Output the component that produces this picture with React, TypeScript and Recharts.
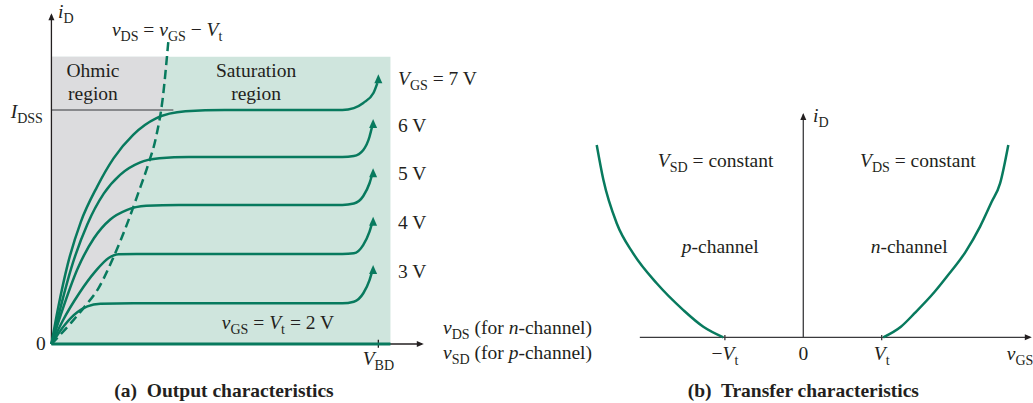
import {
  ComposedChart,
  Line,
  Area,
  XAxis,
  YAxis,
  ReferenceArea,
  ReferenceLine,
  ReferenceDot,
} from 'recharts';

type Pt = { x: number; y: number };
type Seg = [string, string?];

// (a) output characteristics: v_DS in volts (V_BD = 10), i_D in arbitrary units
const vgs3: Pt[] = [
  { x: 0, y: 0 }, { x: 0.4, y: 0.4 }, { x: 0.8, y: 0.68 }, { x: 1.1, y: 0.8 },
  { x: 1.5, y: 0.855 }, { x: 2.5, y: 0.866 }, { x: 8.9, y: 0.866 },
  { x: 9.25, y: 0.9 }, { x: 9.54, y: 1.08 }, { x: 9.73, y: 1.36 }, { x: 9.8, y: 1.52 },
];
const vgs4: Pt[] = [
  { x: 0, y: 0 }, { x: 0.35, y: 0.5 }, { x: 0.85, y: 1.08 }, { x: 1.35, y: 1.55 },
  { x: 1.75, y: 1.83 }, { x: 2.05, y: 1.91 }, { x: 2.6, y: 1.915 }, { x: 8.9, y: 1.915 },
  { x: 9.25, y: 1.93 }, { x: 9.54, y: 2.11 }, { x: 9.73, y: 2.39 }, { x: 9.8, y: 2.55 },
];
const vgs5: Pt[] = [
  { x: 0, y: 0 }, { x: 0.3, y: 0.65 }, { x: 0.8, y: 1.6 }, { x: 1.3, y: 2.25 },
  { x: 1.8, y: 2.65 }, { x: 2.3, y: 2.85 }, { x: 2.9, y: 2.94 }, { x: 3.9, y: 2.96 },
  { x: 8.9, y: 2.96 }, { x: 9.25, y: 2.99 }, { x: 9.54, y: 3.15 }, { x: 9.73, y: 3.42 },
  { x: 9.8, y: 3.58 },
];
const vgs6: Pt[] = [
  { x: 0, y: 0 }, { x: 0.25, y: 0.7 }, { x: 0.6, y: 1.6 }, { x: 1.1, y: 2.55 },
  { x: 1.6, y: 3.2 }, { x: 2.1, y: 3.6 }, { x: 2.7, y: 3.86 }, { x: 3.3, y: 3.95 },
  { x: 4.2, y: 3.98 }, { x: 8.9, y: 3.98 },
  { x: 9.25, y: 4.0 }, { x: 9.54, y: 4.13 }, { x: 9.73, y: 4.41 }, { x: 9.8, y: 4.6 },
];
const vgs7: Pt[] = [
  { x: 0, y: 0 }, { x: 0.2, y: 0.75 }, { x: 0.5, y: 1.7 }, { x: 0.9, y: 2.6 },
  { x: 1.4, y: 3.35 }, { x: 1.9, y: 3.95 }, { x: 2.5, y: 4.45 }, { x: 3.2, y: 4.8 },
  { x: 4.1, y: 4.95 }, { x: 5.3, y: 4.98 }, { x: 8.9, y: 4.98 },
  { x: 9.25, y: 5.02 }, { x: 9.54, y: 5.13 }, { x: 9.85, y: 5.34 }, { x: 9.97, y: 5.55 },
];
const vgs2: Pt[] = [{ x: 0, y: 0 }, { x: 10.37, y: 0 }];
const gateTips: Pt[] = [
  { x: 9.84, y: 1.68 }, { x: 9.84, y: 2.71 }, { x: 9.84, y: 3.74 }, { x: 9.84, y: 4.79 }, { x: 10.0, y: 5.74 },
];
const gateLevels = [0.866, 1.915, 2.96, 3.98, 4.98];
const gateLabels: Seg[][] = [
  [['3 V']], [['4 V']], [['5 V']], [['6 V']], [['V', 'i'], ['GS', 's'], [' = 7 V']],
];
// v_DS = v_GS − V_t
const boundary: Pt[] = [
  { x: 0, y: 0 }, { x: 0.6, y: 0.45 }, { x: 1.0, y: 0.78 }, { x: 1.45, y: 1.2 },
  { x: 1.9, y: 1.85 }, { x: 2.35, y: 2.62 }, { x: 2.65, y: 3.2 }, { x: 2.95, y: 3.8 },
  { x: 3.2, y: 4.4 }, { x: 3.4, y: 5.2 }, { x: 3.58, y: 6.47 },
];
const SHADE_TOP = 6.11;
const SAT_END = 10.37;
const IDSS = 4.98;
const VBD = 10;

// (b) transfer characteristics: v_GS in volts (V_t = 2), i_D in arbitrary units
const pChannel: Pt[] = [
  { x: -5.27, y: 8.55 }, { x: -5.1, y: 7.0 }, { x: -4.76, y: 5.07 }, { x: -4.34, y: 3.73 },
  { x: -3.74, y: 2.4 }, { x: -3.06, y: 1.21 }, { x: -2.55, y: 0.47 }, { x: -2.04, y: 0 },
];
const nChannel: Pt[] = [
  { x: 2.04, y: 0 }, { x: 2.49, y: 0.47 }, { x: 2.84, y: 1.07 }, { x: 3.34, y: 2.0 },
  { x: 3.66, y: 2.69 }, { x: 4.14, y: 3.8 }, { x: 4.51, y: 4.92 }, { x: 4.8, y: 6.0 },
  { x: 5.02, y: 6.84 }, { x: 5.23, y: 8.55 },
];
const VT = 2;
const transferTicks = [-VT, 0, VT];
const transferTickLabels: Seg[][] = [
  [['−'], ['V', 'i'], ['t', 's']],
  [['0']],
  [['V', 'i'], ['t', 's']],
];

const FONT = "'Liberation Serif', 'Times New Roman', Times, serif";
const INK = '#231f20';
const GREEN = '#087a5e';

function Rich({ x, y, parts, anchor = 'start', size = 19.5, bold = false }: any) {
  const shift = 5;
  let low = false;
  return (
    <text
      x={x}
      y={y}
      textAnchor={anchor}
      fontFamily={FONT}
      fontSize={size}
      fontWeight={bold ? 700 : 400}
      fill={INK}
      style={{ whiteSpace: 'pre' }}
    >
      {parts.map(([t, s]: Seg, i: number) => {
        const sub = s === 's';
        const dy = sub && !low ? shift : !sub && low ? -shift : 0;
        low = sub;
        return (
          <tspan
            key={i}
            dy={dy || undefined}
            fontStyle={s === 'i' ? 'italic' : undefined}
            fontSize={sub ? size * 0.72 : undefined}
          >
            {t}
          </tspan>
        );
      })}
    </text>
  );
}

const txt = (key: string, x: number, y: number, parts: Seg[], opts: any = {}) => (
  <ReferenceDot
    key={key}
    x={x}
    y={y}
    r={1}
    ifOverflow="visible"
    shape={(p: any) => <Rich x={p.cx} y={p.cy} parts={parts} {...opts} />}
  />
);

const arrow = (key: string, x: number, y: number, dir: 'up' | 'right', fill: string, len = 8, half = 3.5) => (
  <ReferenceDot
    key={key}
    x={x}
    y={y}
    r={1}
    ifOverflow="visible"
    shape={(p: any) =>
      dir === 'up' ? (
        <path d={`M${p.cx},${p.cy}l${-half},${len}h${2 * half}z`} fill={fill} />
      ) : (
        <path d={`M${p.cx},${p.cy}l${-len},${-half}v${2 * half}z`} fill={fill} />
      )
    }
  />
);

const ohmicArea = boundary.map((p) => ({ x: p.x, r: [Math.min(p.y, SHADE_TOP), SHADE_TOP] }));
const gateCurves = [vgs3, vgs4, vgs5, vgs6, vgs7];

function OutputChart() {
  return (
    <ComposedChart width={600} height={403} margin={{ top: 5, right: 0, bottom: 0, left: 5 }}>
      <XAxis type="number" dataKey="x" domain={[-1.42, 16.78]} hide allowDataOverflow />
      <YAxis type="number" domain={[-1.255, 7.213]} hide allowDataOverflow />
      <ReferenceArea x1={0} x2={SAT_END} y1={0} y2={SHADE_TOP} fill="#cfe5dd" fillOpacity={1} stroke="none" />
      <Area
        data={ohmicArea}
        dataKey="r"
        type="monotone"
        fill="#dcdcde"
        fillOpacity={1}
        stroke="none"
        isAnimationActive={false}
        activeDot={false}
      />
      <ReferenceLine segment={[{ x: 0, y: IDSS }, { x: 3.73, y: IDSS }]} stroke="#6d6e70" strokeWidth={1.5} />
      <ReferenceLine segment={[{ x: 0, y: 0 }, { x: 0, y: 7.0 }]} stroke={INK} strokeWidth={1.3} />
      <ReferenceLine segment={[{ x: 0, y: 0 }, { x: 11.33, y: 0 }]} stroke={INK} strokeWidth={1.3} />
      <ReferenceLine segment={[{ x: VBD, y: -0.08 }, { x: VBD, y: 0.09 }]} stroke={INK} strokeWidth={1.3} />
      {arrow('ay', 0, 7.04, 'up', INK, 7, 3)}
      {arrow('ax', 11.39, 0, 'right', INK, 7, 3)}
      <Line data={vgs2} dataKey="y" stroke={GREEN} strokeWidth={3} dot={false} activeDot={false} isAnimationActive={false} />
      {gateCurves.map((d, i) => (
        <Line
          key={i}
          data={d}
          dataKey="y"
          type="monotone"
          stroke={GREEN}
          strokeWidth={2.5}
          dot={false}
          activeDot={false}
          isAnimationActive={false}
        />
      ))}
      <Line
        data={boundary}
        dataKey="y"
        type="monotone"
        stroke={GREEN}
        strokeWidth={2.5}
        strokeDasharray="9 5"
        dot={false}
        activeDot={false}
        isAnimationActive={false}
      />
      {gateTips.map((t, i) => arrow('g' + i, t.x, t.y, 'up', GREEN, 9, 4))}
      {gateLevels.map((lv, i) => txt('gl' + i, 10.6, lv + 0.54, gateLabels[i]))}
      {txt('id', 0.2, 6.94, [['i', 'i'], ['D', 's']])}
      {txt('bnd', 1.85, 6.55, [['v', 'i'], ['DS', 's'], [' = '], ['v', 'i'], ['GS', 's'], [' − '], ['V', 'i'], ['t', 's']])}
      {txt('oh1', 1.27, 5.68, [['Ohmic']], { anchor: 'middle' })}
      {txt('oh2', 1.27, 5.19, [['region']], { anchor: 'middle' })}
      {txt('sa1', 6.26, 5.68, [['Saturation']], { anchor: 'middle' })}
      {txt('sa2', 6.26, 5.19, [['region']], { anchor: 'middle' })}
      {txt('idss', -0.26, 4.81, [['I', 'i'], ['DSS', 's']], { anchor: 'end' })}
      {txt('vt2', 6.93, 0.32, [['v', 'i'], ['GS', 's'], [' = '], ['V', 'i'], ['t', 's'], [' = 2 V']], { anchor: 'middle' })}
      {txt('zero', -0.17, -0.13, [['0']], { anchor: 'end' })}
      {txt('vbd', VBD, -0.45, [['V', 'i'], ['BD', 's']], { anchor: 'middle' })}
      {txt('xl1', 11.98, 0.21, [['v', 'i'], ['DS', 's'], [' (for '], ['n', 'i'], ['-channel)']])}
      {txt('xl2', 11.98, -0.31, [['v', 'i'], ['SD', 's'], [' (for '], ['p', 'i'], ['-channel)']])}
      {txt('cap', 5.28, -1.13, [['(a)  Output characteristics']], { anchor: 'middle', bold: true })}
    </ComposedChart>
  );
}

function TransferChart() {
  return (
    <ComposedChart width={473} height={403} margin={{ top: 100, right: 0, bottom: 0, left: 28 }}>
      <XAxis type="number" dataKey="x" domain={[-5.492, 5.86]} hide allowDataOverflow />
      <YAxis type="number" domain={[-2.92, 10.547]} hide allowDataOverflow />
      <ReferenceLine segment={[{ x: -4.17, y: 0 }, { x: 5.78, y: 0 }]} stroke="#3a3a3c" strokeWidth={1.3} />
      <ReferenceLine segment={[{ x: 0, y: 0 }, { x: 0, y: 9.9 }]} stroke="#3a3a3c" strokeWidth={1.3} />
      {transferTicks
        .filter((t) => t !== 0)
        .map((t) => (
          <ReferenceLine key={t} segment={[{ x: t, y: -0.13 }, { x: t, y: 0.1 }]} stroke="#3a3a3c" strokeWidth={1.3} />
        ))}
      {arrow('ty', 0, 9.97, 'up', INK, 7, 3)}
      {arrow('tx', 5.83, 0, 'right', INK, 7, 3)}
      <Line data={pChannel} dataKey="y" type="monotone" stroke={GREEN} strokeWidth={2.5} dot={false} activeDot={false} isAnimationActive={false} />
      <Line data={nChannel} dataKey="y" type="monotone" stroke={GREEN} strokeWidth={2.5} dot={false} activeDot={false} isAnimationActive={false} />
      {transferTicks.map((t, i) => txt('tt' + i, t, -1.01, transferTickLabels[i], { anchor: 'middle' }))}
      {txt('tid', 0.247, 9.58, [['i', 'i'], ['D', 's']])}
      {txt('vsd', -3.71, 7.55, [['V', 'i'], ['SD', 's'], [' = constant']])}
      {txt('vds', 1.446, 7.55, [['V', 'i'], ['DS', 's'], [' = constant']])}
      {txt('pch', -3.1, 3.73, [['p', 'i'], ['-channel']])}
      {txt('nch', 1.72, 3.73, [['n', 'i'], ['-channel']])}
      {txt('vgs', 5.19, -1.01, [['v', 'i'], ['GS', 's']])}
      {txt('capb', 0, -2.65, [['(b)  Transfer characteristics']], { anchor: 'middle', bold: true })}
    </ComposedChart>
  );
}

export default function App() {
  return (
    <div style={{ position: 'absolute', left: 0, top: 0, width: 1033, height: 403, background: '#fff', overflow: 'hidden' }}>
      <div style={{ position: 'absolute', left: 0, top: 0 }}>
        <OutputChart />
      </div>
      <div style={{ position: 'absolute', left: 560, top: 0 }}>
        <TransferChart />
      </div>
    </div>
  );
}
